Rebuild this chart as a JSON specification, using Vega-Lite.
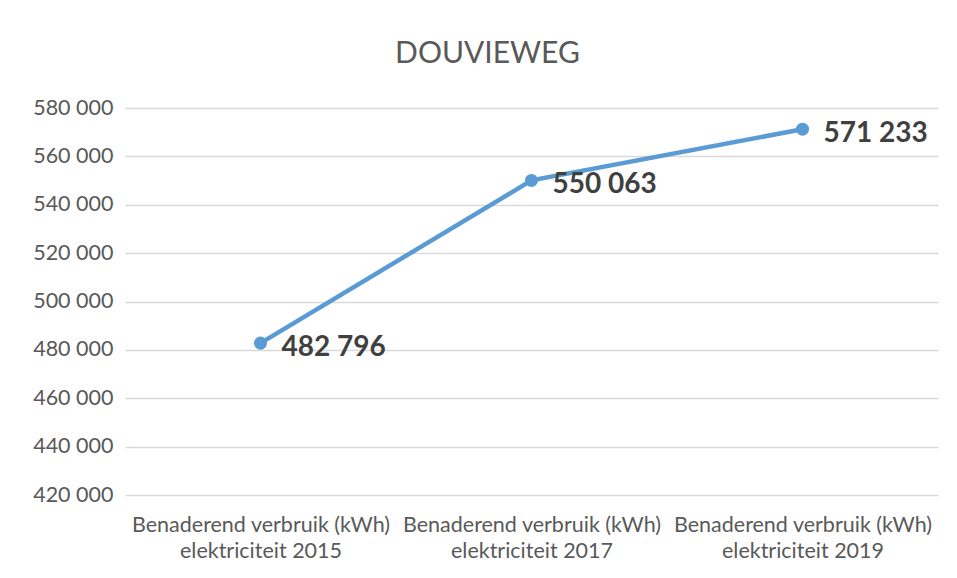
{
  "$schema": "https://vega.github.io/schema/vega-lite/v6.json",
  "width": 813,
  "height": 387,
  "autosize": {"type": "none"},
  "padding": {"left": 125, "top": 108, "right": 19, "bottom": 83},
  "background": "#ffffff",
  "config": {
    "font": "Lato",
    "view": {"stroke": null},
    "locale": {"number": {"decimal": ",", "thousands": " ", "grouping": [3], "currency": ["€", ""]}}
  },
  "title": {
    "text": "DOUVIEWEG",
    "fontSize": 30,
    "fontWeight": "normal",
    "color": "#595959",
    "anchor": "middle",
    "dx": -44,
    "offset": 28,
    "font": "Lato"
  },
  "data": {
    "values": [
      {"categorie": "Benaderend verbruik (kWh) elektriciteit 2015", "verbruik": 482796},
      {"categorie": "Benaderend verbruik (kWh) elektriciteit 2017", "verbruik": 550063},
      {"categorie": "Benaderend verbruik (kWh) elektriciteit 2019", "verbruik": 571233}
    ]
  },
  "encoding": {
    "x": {
      "field": "categorie",
      "type": "nominal",
      "sort": null,
      "scale": {"paddingInner": 0, "paddingOuter": 0, "align": 0.5},
      "axis": {
        "title": null,
        "labelAngle": 0,
        "labelFontSize": 21.5,
        "labelColor": "#595959",
        "labelLineHeight": 26,
        "labelPadding": 19,
        "labelExpr": "['Benaderend verbruik (kWh)', 'elektriciteit ' + slice(datum.label, -4)]",
        "ticks": false,
        "domain": false,
        "grid": false,
        "labelLimit": 0
      }
    },
    "y": {
      "field": "verbruik",
      "type": "quantitative",
      "scale": {"domain": [420000, 580000], "zero": false, "nice": false},
      "axis": {
        "title": null,
        "values": [420000, 440000, 460000, 480000, 500000, 520000, 540000, 560000, 580000],
        "labelExpr": "replace(format(datum.value, ',d'), /,/g, ' ')",
        "labelFontSize": 21.5,
        "labelColor": "#595959",
        "labelPadding": 12,
        "ticks": false,
        "domain": false,
        "grid": true,
        "gridColor": "#D9D9D9",
        "gridWidth": 1.3
      }
    }
  },
  "layer": [
    {
      "mark": {"type": "line", "color": "#5B9BD5", "strokeWidth": 4.5, "point": {"filled": true, "size": 170, "color": "#5B9BD5"}}
    },
    {
      "mark": {"type": "text", "align": "left", "baseline": "middle", "dx": 21, "dy": 5, "fontSize": 28, "fontWeight": "bold", "color": "#404040"},
      "encoding": {"text": {"field": "verbruik", "type": "quantitative", "format": ","}}
    }
  ]
}
